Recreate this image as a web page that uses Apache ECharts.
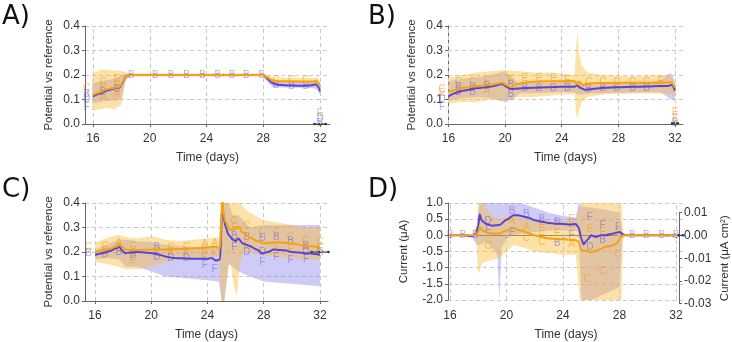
<!DOCTYPE html>
<html>
<head>
<meta charset="utf-8">
<script src="https://cdn.jsdelivr.net/npm/echarts@6.0.0/dist/echarts.min.js"></script>
<style>
  html, body { margin: 0; padding: 0; background: #fff; }
  #chart { width: 732px; height: 342px; }
</style>
</head>
<body>
<div id="chart"></div>
<script>
// ---- data ----
var xTicks = [16, 20, 24, 28, 32];
var potTicksLabel = 'Potential vs reference';

// panel A
var blueA = [[16,0.113],[16.5,0.125],[17,0.137],[17.5,0.145],[17.9,0.15],[18.1,0.17],[18.3,0.195],[18.6,0.2],[20,0.2],[24,0.2],[28,0.2],[28.3,0.185],[28.6,0.168],[29,0.16],[30,0.157],[31,0.156],[31.4,0.158],[31.7,0.162],[31.9,0.15],[32,0.133]];
var orangeA = [[16,0.118],[16.5,0.13],[17,0.142],[17.5,0.148],[17.9,0.152],[18.1,0.172],[18.3,0.196],[18.6,0.2],[20,0.2],[24,0.2],[28,0.2],[28.3,0.19],[28.6,0.18],[29,0.175],[30,0.174],[31,0.173],[31.4,0.173],[31.7,0.176],[31.9,0.168],[32,0.155]];
var bandOrangeA = [[15.95,0.055,0.205],[16.5,0.06,0.22],[17,0.065,0.222],[17.5,0.06,0.218],[18,0.08,0.218],[18.3,0.18,0.21],[18.6,0.195,0.205],[28,0.195,0.205],[28.3,0.175,0.2],[28.7,0.165,0.19],[31.5,0.163,0.188],[31.8,0.16,0.19],[32,0.14,0.175]];
var bandBlueA = [[15.95,0.085,0.165],[16.5,0.09,0.175],[17,0.095,0.18],[17.5,0.095,0.185],[18,0.1,0.2],[18.3,0.18,0.205],[18.6,0.195,0.205],[28,0.195,0.205],[28.3,0.17,0.19],[28.7,0.15,0.175],[31.5,0.147,0.172],[31.8,0.14,0.185],[32,0.12,0.15]];
var lettersA = [[15.55,0.145,'C'],[15.55,0.12,'B'],[15.55,0.1,'D'],[15.55,0.07,'F'],
  [16.7,0.172,'C'],[16.7,0.15,'E'],[16.7,0.13,'B'],[16.7,0.11,'A'],
  [17.7,0.182,'E'],[17.7,0.16,'E'],[17.7,0.14,'B'],[17.7,0.12,'A'],
  [18.7,0.2,'B'],[20.4,0.2,'B'],[21.5,0.2,'B'],[22.6,0.2,'B'],[23.7,0.2,'B'],[24.8,0.2,'B'],[25.8,0.2,'B'],[26.8,0.2,'B'],[27.9,0.2,'B'],
  [28.9,0.18,'C'],[28.9,0.158,'B'],[30,0.18,'C'],[30,0.155,'B'],[31,0.18,'C'],[31,0.155,'B'],
  [32,0.045,'E'],[32,0.022,'D'],[32,0.005,'B']];
var refA = [[23.8,0.2],[24.5,0.2],[25.2,0.2],[25.9,0.2]];
var refA2 = [[31.6,0.0],[32.0,0.0],[32.4,0.0]];

// panel B
var blueB = [[16,0.113],[16.5,0.127],[17,0.136],[18,0.146],[19,0.153],[19.8,0.163],[20.1,0.152],[20.4,0.143],[21,0.145],[22,0.148],[23,0.15],[24,0.152],[24.9,0.152],[25.1,0.158],[25.3,0.148],[25.6,0.14],[26,0.142],[27,0.148],[28,0.15],[29,0.152],[30,0.153],[31,0.155],[31.5,0.155],[31.8,0.16],[32,0.135]];
var orangeB = [[16,0.13],[16.5,0.14],[17,0.148],[18,0.155],[19,0.16],[19.8,0.168],[20.1,0.158],[20.4,0.15],[20.8,0.162],[21.3,0.168],[22,0.172],[23,0.174],[24,0.175],[24.9,0.176],[25.1,0.162],[25.25,0.172],[25.5,0.158],[25.8,0.165],[26.5,0.167],[28,0.168],[30,0.168],[31,0.168],[31.7,0.17],[32,0.148]];
var bandOrangeB = [[16,0.085,0.19],[17,0.09,0.2],[18,0.09,0.21],[19,0.1,0.215],[20,0.095,0.22],[21,0.11,0.215],[22,0.11,0.21],[23,0.115,0.21],[24,0.12,0.205],[24.9,0.12,0.2],[25.0,0.05,0.3],[25.1,0.02,0.38],[25.2,0.05,0.3],[25.4,0.09,0.24],[25.8,0.11,0.21],[27,0.12,0.2],[29,0.125,0.195],[31,0.125,0.2],[31.8,0.12,0.195],[32,0.11,0.17]];
var bandBlueB = [[16,0.095,0.175],[17,0.105,0.185],[18,0.11,0.19],[19,0.105,0.2],[20,0.09,0.215],[20.5,0.1,0.19],[21,0.125,0.165],[24,0.13,0.17],[24.9,0.13,0.172],[25.1,0.12,0.18],[25.5,0.12,0.165],[26,0.125,0.16],[30,0.13,0.17],[31,0.13,0.18],[31.7,0.1,0.21],[32,0.1,0.17]];
var lettersB = [[15.55,0.14,'C'],[15.55,0.125,'E'],[15.55,0.1,'D'],[15.55,0.07,'F'],
  [16.7,0.17,'C'],[16.7,0.15,'B'],[16.7,0.13,'B'],
  [17.7,0.172,'C'],[17.7,0.15,'B'],[17.7,0.13,'B'],
  [18.7,0.175,'E'],[18.7,0.155,'B'],[18.7,0.135,'A'],
  [20.4,0.18,'E'],[20.4,0.16,'B'],[20.4,0.12,'B'],
  [21.4,0.185,'E'],[21.4,0.145,'B'],[22.4,0.185,'E'],[22.4,0.145,'B'],[23.4,0.187,'E'],[23.4,0.145,'B'],[24.4,0.18,'E'],[24.4,0.145,'B'],
  [25.9,0.17,'C'],[25.9,0.14,'B'],[26.9,0.17,'C'],[26.9,0.145,'B'],[27.9,0.17,'C'],[27.9,0.145,'B'],[29,0.17,'C'],[29,0.145,'B'],[30,0.17,'C'],[30,0.145,'B'],[31,0.175,'E'],[31,0.16,'C'],
  [32,0.05,'E'],[32,0.025,'E'],[32,0.005,'B']];
var refB = [[31.8,0.003],[32.0,0.003],[32.2,0.003]];

// panel C
var blueC = [[16,0.188],[16.5,0.195],[17,0.203],[17.5,0.215],[17.75,0.22],[17.95,0.205],[18.15,0.195],[18.5,0.198],[19,0.2],[20,0.196],[20.5,0.19],[21,0.182],[21.5,0.176],[22,0.174],[23,0.172],[24,0.172],[24.3,0.176],[24.6,0.165],[24.9,0.17],[25.05,0.4],[25.15,0.34],[25.3,0.3],[25.5,0.27],[25.8,0.25],[26,0.245],[26.2,0.255],[26.5,0.235],[27,0.225],[27.5,0.21],[27.9,0.195],[28.3,0.2],[28.7,0.21],[29.5,0.207],[30,0.2],[31,0.195],[32,0.19]];
var orangeC = [[16,0.2],[16.5,0.205],[17,0.212],[17.5,0.222],[17.75,0.23],[17.95,0.22],[18.15,0.21],[18.5,0.208],[19,0.208],[20,0.21],[21,0.21],[22,0.212],[23,0.215],[24,0.218],[24.5,0.222],[24.9,0.215],[25.05,0.42],[25.15,0.35],[25.3,0.32],[25.6,0.29],[26,0.295],[26.2,0.305],[26.5,0.28],[27,0.26],[27.5,0.245],[28,0.235],[28.5,0.238],[29,0.24],[30,0.235],[31,0.225],[32,0.22]];
var bandOrangeC = [[16,0.16,0.24],[17,0.15,0.26],[17.7,0.14,0.27],[18.2,0.13,0.26],[19,0.13,0.255],[20,0.14,0.265],[21,0.16,0.25],[22,0.17,0.245],[23,0.175,0.25],[24,0.18,0.255],[24.8,0.18,0.26],[25.0,0,0.4],[25.2,0,0.4],[25.4,0.1,0.4],[25.6,0.18,0.4],[25.9,0.05,0.4],[26.1,0.02,0.4],[26.3,0.15,0.4],[26.6,0.2,0.38],[27,0.2,0.36],[28,0.185,0.33],[29,0.18,0.32],[30,0.175,0.31],[31,0.17,0.3],[32,0.165,0.3]];
var bandBlueC = [[16,0.17,0.21],[17,0.175,0.235],[17.7,0.17,0.25],[18.2,0.14,0.25],[19,0.14,0.245],[20,0.12,0.24],[21,0.1,0.23],[22,0.095,0.225],[23,0.09,0.22],[24,0.085,0.22],[24.8,0.08,0.22],[25.0,0,0.4],[25.2,0,0.4],[25.5,0.15,0.4],[25.8,0.14,0.35],[26.2,0.12,0.35],[27,0.1,0.3],[28,0.08,0.31],[29,0.075,0.31],[30,0.07,0.31],[31,0.065,0.31],[32,0.06,0.31]];
var lettersC = [[15.55,0.22,'C'],[15.55,0.195,'B'],
  [16.7,0.225,'C'],[16.7,0.205,'E'],[16.7,0.19,'B'],
  [17.7,0.235,'A'],[17.7,0.215,'E'],[17.7,0.2,'B'],
  [18.7,0.225,'C'],[18.7,0.205,'E'],[18.7,0.185,'B'],[18.7,0.165,'E'],
  [20.4,0.22,'B'],[20.4,0.2,'E'],[20.4,0.18,'D'],
  [21.4,0.215,'C'],[21.4,0.2,'E'],[21.4,0.175,'D'],
  [22.5,0.22,'C'],[22.5,0.2,'E'],[22.5,0.175,'D'],
  [23.8,0.23,'A'],[23.8,0.205,'E'],[23.8,0.18,'E'],[23.8,0.145,'F'],
  [24.5,0.235,'A'],[24.5,0.2,'E'],[24.5,0.13,'F'],
  [25.9,0.325,'C'],[25.9,0.3,'E'],[25.9,0.265,'B'],[25.9,0.22,'F'],
  [26.8,0.305,'C'],[26.8,0.26,'B'],[26.8,0.225,'E'],[26.8,0.2,'D'],
  [27.9,0.28,'C'],[27.9,0.255,'B'],[27.9,0.2,'D'],[27.9,0.16,'F'],
  [28.9,0.28,'C'],[28.9,0.26,'B'],[28.9,0.22,'E'],[28.9,0.18,'F'],
  [29.9,0.26,'C'],[29.9,0.245,'B'],[29.9,0.21,'E'],[29.9,0.165,'F'],
  [31.0,0.245,'C'],[31.0,0.225,'B'],[31.0,0.2,'D'],[31.0,0.17,'F'],
  [32.0,0.24,'C'],[32.0,0.215,'E'],[32.0,0.195,'D']];
var refC = [[31.4,0.2],[32.0,0.2],[32.6,0.2]];

// panel D (current, uA)
var blueD = [[16,0],[17,0],[17.5,-0.03],[17.85,0.02],[18.0,0.3],[18.1,0.65],[18.25,0.45],[18.6,0.35],[19,0.3],[19.5,0.32],[20,0.48],[20.5,0.62],[20.8,0.62],[21.5,0.55],[22,0.47],[22.5,0.42],[23,0.38],[23.5,0.36],[24,0.35],[24.5,0.33],[24.9,0.35],[25.1,0.25],[25.3,-0.1],[25.45,-0.28],[25.7,-0.15],[26,0.0],[26.3,-0.05],[26.7,0.0],[27,0.0],[27.5,0.05],[28,0.1],[28.3,0.02],[28.6,0],[32,0]];
var orangeD = [[16,0],[17.5,0],[17.85,0.0],[18.0,0.1],[18.1,0.25],[18.3,0.15],[18.7,0.08],[19,0.05],[19.5,0.06],[20,0.15],[20.5,0.22],[21,0.15],[21.5,0.08],[22,0.0],[22.5,-0.05],[23,-0.1],[24,-0.12],[24.9,-0.15],[25.1,-0.2],[25.3,-0.45],[25.5,-0.48],[26,-0.52],[26.3,-0.48],[26.7,-0.42],[27,-0.35],[27.5,-0.32],[27.8,-0.25],[28.1,-0.05],[28.3,0],[32,0]];
var bandOrangeD = [[17.85,-0.05,0.05],[18.0,-1.2,1.0],[18.3,-0.85,1.0],[19,-0.75,0.6],[19.5,-0.7,0.5],[20,-0.5,0.6],[20.5,-0.3,0.65],[21,-0.35,0.6],[22,-0.5,0.5],[23,-0.55,0.45],[24,-0.6,0.45],[24.9,-0.6,0.45],[25.2,-2.0,1.0],[26,-2.0,1.0],[27,-2.0,1.0],[28,-2.0,1.0],[28.15,-2.0,1.0],[28.25,-0.05,0.05]];
var bandBlueD = [[17.6,-0.1,0.05],[17.9,-0.3,0.3],[18.1,-0.3,1.0],[18.5,-0.2,1.0],[19,-0.4,1.0],[19.35,-0.6,1.0],[19.5,-2.0,1.0],[19.65,-0.4,1.0],[20,-0.1,1.0],[20.5,0.0,1.0],[21,0.05,1.0],[22,0.1,0.85],[23,0.15,0.7],[24,0.15,0.6],[24.9,0.15,0.55],[25.1,0.1,1.0],[25.3,-2.0,0.9],[26,-2.0,0.85],[27,-1.8,0.8],[28,-1.6,0.7],[28.2,-0.1,0.1],[28.4,-0.02,0.02]];
var lettersD = [[16,0,'B'],[16.9,0,'B'],[17.8,0,'B'],
  [18.7,0.45,'D'],[18.7,0.15,'F'],[18.7,-0.35,'C'],
  [20.4,0.75,'B'],[20.4,0.45,'A'],[20.4,0.1,'F'],
  [21.4,0.65,'B'],[21.4,0.25,'A'],[21.4,-0.1,'C'],
  [22.5,0.5,'B'],[22.5,0.3,'E'],[22.5,0.0,'E'],[22.5,-0.2,'C'],
  [23.6,0.4,'B'],[23.6,0.05,'E'],[23.6,-0.25,'B'],
  [24.6,0.5,'E'],[24.6,0.35,'E'],[24.6,0.0,'F'],[24.6,-0.28,'A'],
  [25.9,0.55,'F'],[25.9,0.2,'E'],[25.9,-0.38,'D'],[25.7,-1.35,'C'],
  [26.8,0.3,'F'],[26.8,0.1,'E'],[26.8,-0.15,'B'],[26.8,-1.1,'C'],
  [27.9,0.25,'F'],[27.9,0.05,'C'],[27.9,-0.6,'C'],
  [28.9,0,'B'],[29.9,0,'B'],[31,0,'B'],[32,0,'B']];
var refD = [[31.4,0],[31.8,0],[32.2,0],[32.5,0]];

// ---- styling ----
var BLUE = '#5843d8';
var ORANGE = '#f7a20c';
var BAND_BLUE = 'rgba(120,110,232,0.36)';
var BAND_ORANGE = 'rgba(251,188,60,0.45)';
var LET_ORANGE = 'rgba(240,160,30,0.8)';
var LET_BLUE = 'rgba(110,100,220,0.7)';
var FONT = '"Liberation Sans", Arial, sans-serif';
var GRID_LINE = { show: true, lineStyle: { color: '#c9c9c9', type: [4, 3], width: 1 } };

var grids = [
  { left: 85,  top: 26,  width: 245, height: 98 },
  { left: 448, top: 26,  width: 235, height: 98 },
  { left: 85,  top: 203, width: 243, height: 98 },
  { left: 448, top: 203, width: 236, height: 97 },
  { left: 448, top: 212.7, width: 236, height: 91 }   // right axis of D
];
var xRanges = [[15.436, 32.705], [15.965, 32.565], [15.289, 32.569], [15.858, 32.566], [15.858, 32.566]];
var xOffsets = [3, 3, 3, 4, 0];

function mkX(i) {
  var base = {
    type: 'value', gridIndex: i, min: xRanges[i][0], max: xRanges[i][1],
    splitLine: { show: false }
  };
  if (i === 4) { base.show = false; return base; }
  base.offset = xOffsets[i];
  base.name = 'Time (days)';
  base.nameLocation = 'middle';
  base.nameGap = 25;
  base.nameTextStyle = { fontFamily: FONT, fontSize: 12, color: '#333' };
  base.axisLine = { lineStyle: { color: '#666' } };
  base.axisTick = { length: 3, customValues: xTicks, lineStyle: { color: '#666' } };
  base.axisLabel = { customValues: xTicks, fontFamily: FONT, fontSize: 12, color: '#333', margin: 6 };
  return base;
}

function mkY(i) {
  var y = {
    type: 'value', gridIndex: i,
    axisLine: { show: true, lineStyle: { color: '#666' } },
    axisTick: { show: true, length: 3, lineStyle: { color: '#666' } },
    axisLabel: { fontFamily: FONT, fontSize: 12, color: '#333', margin: 5 },
    nameLocation: 'middle', nameRotate: 90,
    nameTextStyle: { fontFamily: FONT, fontSize: 11.5, color: '#333' },
    splitLine: GRID_LINE
  };
  if (i < 3) {
    y.min = 0; y.max = 0.4; y.interval = 0.1;
    y.name = potTicksLabel; y.nameGap = 30;
    y.axisLabel.formatter = function (v) { return v.toFixed(1); };
  } else if (i === 3) {
    y.min = -2; y.max = 1; y.interval = 0.5;
    y.name = 'Current (\u03bcA)'; y.nameGap = 38;
    y.axisLabel.formatter = function (v) { return v.toFixed(1); };
  } else {
    y.min = -0.03; y.max = 0.01; y.interval = 0.01;
    y.position = 'right';
    y.name = 'Current (\u03bcA cm\u00b2)'; y.nameGap = 40;
    y.splitLine = { show: false };
    y.axisLabel.formatter = function (v) { return v.toFixed(2); };
  }
  return y;
}

function bandSeries(band, color, gi) {
  return {
    type: 'custom', xAxisIndex: gi, yAxisIndex: gi, silent: true, z: 1,
    data: band,
    encode: { x: 0, y: [1, 2] },
    renderItem: function (params, api) {
      if (params.dataIndex !== 0) return null;
      var pts = [];
      for (var k = 0; k < band.length; k++) pts.push(api.coord([band[k][0], band[k][1]]));
      for (var k2 = band.length - 1; k2 >= 0; k2--) pts.push(api.coord([band[k2][0], band[k2][2]]));
      return { type: 'polygon', shape: { points: pts }, style: { fill: color } };
    }
  };
}

function lineSeries(data, color, gi, z) {
  return {
    type: 'line', xAxisIndex: gi, yAxisIndex: gi, data: data,
    showSymbol: false, smooth: 0.25, smoothMonotone: 'x', z: z,
    lineStyle: { color: color, width: 2 }, silent: true
  };
}

function letterSeries(list, which, color, gi) {
  var sel = list.filter(function (d) {
    return which.indexOf(d[2]) >= 0;
  });
  return {
    type: 'scatter', xAxisIndex: gi, yAxisIndex: gi, data: sel, clip: false,
    symbol: 'circle', symbolSize: 1, itemStyle: { color: 'rgba(0,0,0,0)' }, z: 3, silent: true,
    label: {
      show: true, position: 'inside', formatter: function (p) { return p.value[2]; },
      fontFamily: FONT, fontSize: 10, color: color
    },
    labelLayout: { hideOverlap: false }
  };
}

function refSeries(data, gi) {
  return {
    type: 'line', xAxisIndex: gi, yAxisIndex: gi, data: data, z: 4,
    symbol: 'circle', symbolSize: 2.5, clip: false, silent: true,
    itemStyle: { color: '#333' }, lineStyle: { color: '#333', width: 1 }
  };
}

function vGrid(gi) {
  return {
    type: 'line', xAxisIndex: gi, yAxisIndex: gi, data: [], silent: true, z: 0,
    markLine: {
      silent: true, symbol: 'none', label: { show: false },
      lineStyle: { color: '#c9c9c9', type: [4, 3], width: 1 },
      data: xTicks.map(function (v) { return { xAxis: v }; })
    }
  };
}

var panels = [
  { blue: blueA, orange: orangeA, bb: bandBlueA, bo: bandOrangeA, letters: lettersA, refs: [refA, refA2] },
  { blue: blueB, orange: orangeB, bb: bandBlueB, bo: bandOrangeB, letters: lettersB, refs: [refB] },
  { blue: blueC, orange: orangeC, bb: bandBlueC, bo: bandOrangeC, letters: lettersC, refs: [refC] },
  { blue: blueD, orange: orangeD, bb: bandBlueD, bo: bandOrangeD, letters: lettersD, refs: [refD] }
];

var series = [];
panels.forEach(function (p, gi) {
  series.push(vGrid(gi));
  series.push(bandSeries(p.bb, BAND_BLUE, gi));
  series.push(bandSeries(p.bo, BAND_ORANGE, gi));
  series.push(letterSeries(p.letters, ['A', 'C', 'E'], LET_ORANGE, gi));
  series.push(letterSeries(p.letters, ['B', 'D', 'F'], LET_BLUE, gi));
  series.push(lineSeries(p.blue, BLUE, gi, 5));
  series.push(lineSeries(p.orange, ORANGE, gi, 6));
  p.refs.forEach(function (r) { series.push(refSeries(r, gi)); });
});

var panelLabels = [['A)', 2, 4], ['B)', 368, 4], ['C)', 2, 177], ['D)', 368, 177]];

var chart = echarts.init(document.getElementById('chart'), null, { renderer: 'canvas' });
chart.setOption({
  animation: false,
  backgroundColor: '#fff',
  grid: grids,
  xAxis: [0, 1, 2, 3, 4].map(mkX),
  yAxis: [0, 1, 2, 3, 4].map(mkY),
  graphic: panelLabels.map(function (l) {
    return {
      type: 'text', left: l[1], top: l[2],
      style: { text: l[0], font: '26px "DejaVu Sans", sans-serif', fill: '#111' }
    };
  }),
  series: series
});
</script>
</body>
</html>
